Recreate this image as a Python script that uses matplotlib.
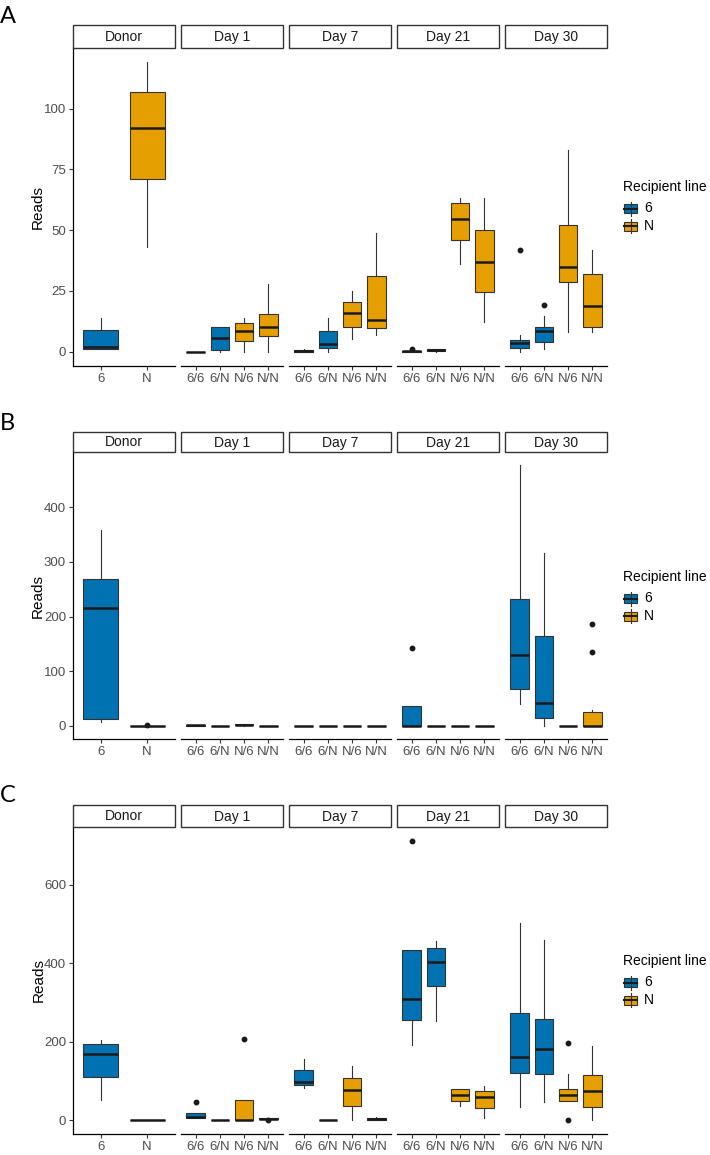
import matplotlib.pyplot as plt
from matplotlib.patches import Rectangle

# ---------- DATA (box stats: whisker low, q1, median, q3, whisker high, outliers) ----------
facets = ["Donor", "Day 1", "Day 7", "Day 21", "Day 30"]
donor_groups = ["6", "N"]
day_groups = ["6/6", "6/N", "N/6", "N/N"]
legend_labels = ["6", "N"]

a_donor = [(1, 1, 2, 9, 14, []), (43, 71, 92, 107, 119, [])]
a_day1 = [(0, 0, 0, 0, 0, []), (0, 0.5, 5.5, 10, 10, []),
          (0, 4.3, 8.4, 11.7, 14, []), (0, 6.5, 10, 15.3, 28, [])]
a_day7 = [(0, 0, 0.3, 0.6, 1, []), (0, 1.4, 3, 8.4, 14, []),
          (5, 10.3, 16, 20.5, 25, []), (7, 9.8, 13, 31, 49, [])]
a_day21 = [(0, 0, 0.1, 0.4, 0.4, [1.2]), (0, 0.1, 0.6, 1.0, 1.0, []),
           (36, 46, 54.5, 61, 63, []), (12, 24.4, 37, 50, 63, [])]
a_day30 = [(0, 1.4, 3.6, 4.8, 6.7, [42]), (1, 4.1, 8.4, 10, 14.7, [19]),
           (8, 28.5, 34.6, 52, 83, []), (8, 10, 18.6, 32, 42, [])]

b_donor = [(7, 12, 215, 269, 359, []), (0, 0, 0, 0, 0, [1])]
b_day1 = [(0, 0, 1, 1, 1, []), (0, 0, 0, 0, 0, []),
          (0, 1, 2, 3, 3, []), (0, 0, 0, 0, 0, [])]
b_day7 = [(0, 0, 0, 0, 0, []), (0, 0, 0, 0, 0, []),
          (0, 0, 0, 0, 0, []), (0, 0, 0, 0, 0, [])]
b_day21 = [(0, 0, 0, 36, 36, [142]), (0, 0, 0, 0, 0, []),
           (0, 0, 0, 0, 0, []), (0, 0, 0, 0, 0, [])]
b_day30 = [(40, 67, 129, 233, 477, []), (0, 15, 42, 164, 316, []),
           (0, 0, 0, 0, 0, []), (0, 0, 0, 25, 29, [136, 186])]

c_donor = [(52, 110, 168, 195, 205, []), (0, 0, 0, 0, 0, [])]
c_day1 = [(5, 5, 7, 17, 17, [46]), (0, 0, 0, 0, 0, []),
          (0, 0, 0, 51, 51, [208]), (1, 1.5, 3, 4.5, 6, [0])]
c_day7 = [(83, 89, 97, 128, 157, []), (0, 0, 0, 0, 0, []),
          (0, 37, 76, 107, 139, []), (0, 1, 3, 5, 8, [])]
c_day21 = [(191, 255, 310, 435, 435, [712]), (253, 343, 403, 440, 458, []),
           (37, 48, 65, 79, 79, []), (5, 31, 59, 74, 88, [])]
c_day30 = [(33, 120, 160, 273, 503, []), (46, 118, 182, 259, 460, []),
           (48, 48.5, 64.5, 80, 118, [196, 0]), (0, 34, 75, 114, 190, [])]

a_yticks = [0, 25, 50, 75, 100]
b_yticks = [0, 100, 200, 300, 400]
c_yticks = [0, 200, 400, 600]

# ---------- STYLE ----------
W, H = 710, 1155
BLUE = "#0072B2"
ORANGE = "#E69F00"
EDGE = "#333333"
TXT = "#4D4D4D"
plt.rcParams['font.family'] = ['Liberation Sans', 'DejaVu Sans']

# panel layout in pixels: (letter, strip top, strip bottom, plot bottom, letter baseline, legend title y)
panels = [
    ("A", [a_donor, a_day1, a_day7, a_day21, a_day30], a_yticks, 25, 48, 366, 23, 187),
    ("B", [b_donor, b_day1, b_day7, b_day21, b_day30], b_yticks, 432, 452, 739, 430, 577),
    ("C", [c_donor, c_day1, c_day7, c_day21, c_day30], c_yticks, 805, 827, 1134, 802, 961),
]
facet_x = [(73, 175), (181, 283), (289, 391), (397, 499), (505, 607)]


def px_axes(fig, x0, y0, x1, y1):
    return fig.add_axes([x0 / W, 1 - y1 / H, (x1 - x0) / W, (y1 - y0) / H])


def box_color(label):
    return BLUE if label[0] == "6" else ORANGE


fig = plt.figure(figsize=(W / 100, H / 100), dpi=100)
over = fig.add_axes([0, 0, 1, 1], zorder=10)
over.set_xlim(0, W)
over.set_ylim(H, 0)
over.axis('off')

for letter, data, yticks, s_top, s_bot, p_bot, let_y, leg_y in panels:
    # y range from data with ggplot 5% expansion
    vals = []
    for fac in data:
        for b in fac:
            vals += list(b[:5]) + list(b[5])
    lo, hi = min(vals), max(vals)
    pad = 0.05 * (hi - lo)

    for i, (fac, name) in enumerate(zip(data, facets)):
        x0, x1 = facet_x[i]
        groups = donor_groups if i == 0 else day_groups
        ax = px_axes(fig, x0, s_bot, x1, p_bot)
        stats = []
        for g, b in zip(groups, fac):
            stats.append(dict(whislo=b[0], q1=b[1], med=b[2], q3=b[3], whishi=b[4],
                              fliers=b[5], label=g))
        pos = list(range(1, len(groups) + 1))
        res = ax.bxp(stats, positions=pos, widths=0.75, patch_artist=True,
                     showcaps=False,
                     boxprops=dict(edgecolor=EDGE, linewidth=0.8),
                     medianprops=dict(color="#1A1A1A", linewidth=1.8),
                     whiskerprops=dict(color=EDGE, linewidth=0.8),
                     flierprops=dict(marker='o', markersize=3.2, markerfacecolor="#1A1A1A",
                                     markeredgecolor="#1A1A1A"))
        for patch, g in zip(res['boxes'], groups):
            patch.set_facecolor(box_color(g))
        ax.set_xlim(0.4, len(groups) + 0.6)
        ax.set_ylim(lo - pad, hi + pad)
        ax.set_xticks(pos)
        ax.set_xticklabels(groups)
        for s in ['top', 'right']:
            ax.spines[s].set_visible(False)
        ax.spines['bottom'].set_linewidth(0.9)
        ax.spines['left'].set_linewidth(0.9)
        ax.tick_params(colors=EDGE, labelcolor=TXT, labelsize=9.5, length=3, width=0.8, pad=2)
        if i == 0:
            ax.set_yticks(yticks)
            ax.set_ylabel("Reads", fontsize=11, color="black", labelpad=-1)
        else:
            ax.spines['left'].set_visible(False)
            ax.set_yticks([])

        # strip
        over.add_patch(Rectangle((x0, s_top), x1 - x0, s_bot - s_top, facecolor='white',
                                 edgecolor=EDGE, linewidth=1.0))
        over.text((x0 + x1) / 2, (s_top + s_bot) / 2 + 0.5, name, ha='center', va='center',
                  fontsize=10, color="#1A1A1A")

    # panel letter
    over.text(0, let_y, letter, fontsize=17, family=['Lato', 'DejaVu Sans'],
              ha='left', va='baseline', color='black')

    # legend
    over.text(623, leg_y, "Recipient line", fontsize=10, ha='left', va='center', color='black')
    for k, lab in enumerate(legend_labels):
        cy = leg_y + 21.5 + 17.5 * k
        col = box_color(lab)
        over.plot([630.5, 630.5], [cy - 7, cy + 7], color=EDGE, linewidth=0.8)
        over.add_patch(Rectangle((624, cy - 4.5), 13, 9, facecolor=col,
                                 edgecolor=EDGE, linewidth=0.8))
        over.plot([624, 637], [cy, cy], color="#1A1A1A", linewidth=1.5)
        over.text(644, cy, lab, fontsize=10, ha='left', va='center', color='black')

fig.savefig("out.png", dpi=100)
